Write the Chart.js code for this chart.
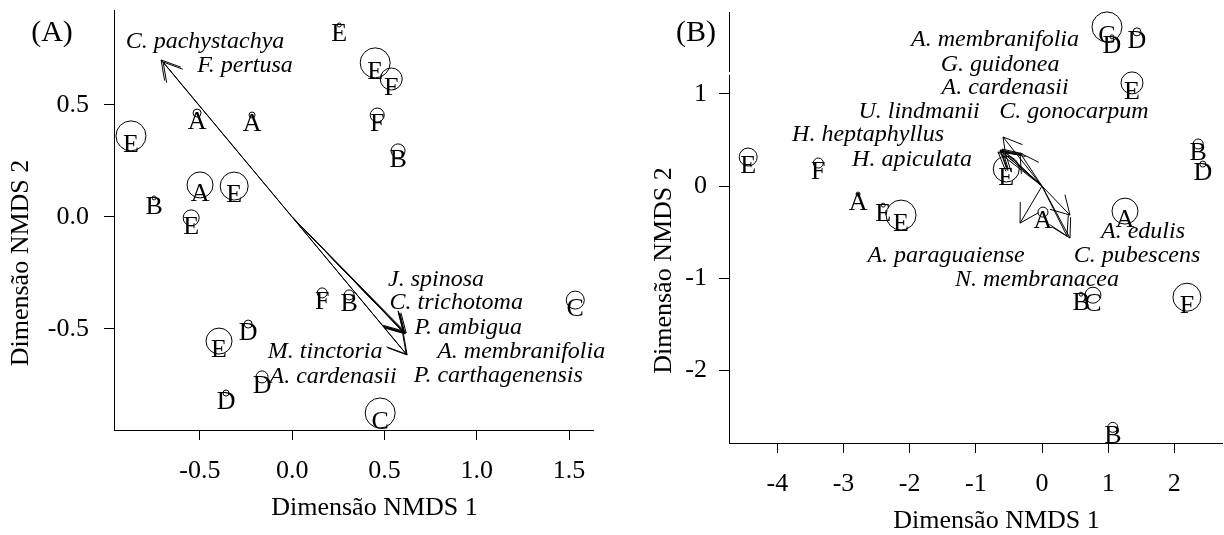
<!DOCTYPE html>
<html>
<head>
<meta charset="utf-8">
<script src="https://cdn.jsdelivr.net/npm/chart.js@4.4.1/dist/chart.umd.min.js"></script>
<style>
    body { margin: 0; background: #fff; }
    #wrap { position: relative; width: 1224px; height: 535px; }
    canvas { position: absolute; top: 0; }
</style>
</head>
<body>
<div id="wrap">
    <canvas id="chartA" width="612" height="535" style="left:0"></canvas>
    <canvas id="chartB" width="612" height="535" style="left:612px"></canvas>
</div>
<script>
// ---- panel A: sites ----
const siteLabelsA = ["E", "A", "A", "A", "E", "B", "E", "E", "E", "F", "F", "B", "F", "B", "C", "C", "D", "E", "D", "D"];
const siteXA = [-0.873, -0.515, -0.217, -0.499, -0.314, -0.748, -0.547, 0.255, 0.450, 0.537, 0.461, 0.574, 0.163, 0.309, 1.534, 0.477, -0.238, -0.396, -0.163, -0.358];
const siteYA = [0.362, 0.464, 0.455, 0.143, 0.138, 0.085, -0.004, 0.857, 0.688, 0.616, 0.455, 0.295, -0.339, -0.348, -0.371, -0.875, -0.478, -0.554, -0.714, -0.786];
const siteSizeA = [15, 4, 3, 13, 14, 2, 8, 2, 15, 11, 7, 7, 5, 5, 9, 15, 4, 13, 6, 3];

// ---- panel A: species vectors ----
const speciesA = ["C. pachystachya", "F. pertusa", "J. spinosa", "C. trichotoma", "P. ambigua", "A. membranifolia", "P. carthagenensis", "M. tinctoria", "A. cardenasii"];
const arrowXA = [-0.710, -0.699, 0.602, 0.618, 0.607, 0.623, 0.618, 0.612, 0.602];
const arrowYA = [0.701, 0.692, -0.513, -0.518, -0.518, -0.616, -0.612, -0.522, -0.509];
const labelXA = [-0.472, -0.255, 0.780, 0.889, 0.954, 1.241, 1.117, 0.179, 0.222];
const labelYA = [0.781, 0.674, -0.281, -0.384, -0.496, -0.603, -0.710, -0.603, -0.714];

const xTicksA = [-0.5, 0, 0.5, 1, 1.5];
const yTicksA = [-0.5, 0, 0.5];

// ---- panel B: sites ----
const siteLabelsB = ["E", "F", "A", "E", "E", "C", "D", "D", "E", "B", "D", "E", "A", "A", "B", "C", "F", "B"];
const siteXB = [-4.44, -3.38, -2.78, -2.40, -2.13, 0.982, 1.057, 1.435, 1.36, 2.36, 2.43, -0.54, 0.015, 1.254, 0.59, 0.77, 2.19, 1.07];
const siteYB = [0.315, 0.25, -0.087, -0.207, -0.315, 1.728, 1.62, 1.674, 1.12, 0.457, 0.239, 0.185, -0.283, -0.272, -1.174, -1.185, -1.207, -2.62];
const siteSizeB = [9, 5, 2, 2, 15, 15, 2, 4, 11, 5, 3, 13, 5, 13, 2, 8, 14, 5];

// ---- panel B: species vectors ----
const speciesB = ["A. membranifolia", "G. guidonea", "A. cardenasii", "C. gonocarpum", "U. lindmanii", "H. heptaphyllus", "H. apiculata", "A. edulis", "A. paraguaiense", "C. pubescens", "N. membranacea"];
const arrowXB = [-0.634, -0.604, -0.665, -0.589, -0.332, -0.559, -0.619, 0.423, -0.332, 0.423, 0.378];
const arrowYB = [0.391, 0.402, 0.370, 0.533, 0.359, 0.370, 0.380, -0.315, -0.402, -0.565, -0.543];
const labelXB = [-0.71, -0.634, -0.559, 0.483, -1.858, -2.628, -1.964, 1.526, -1.450, 1.435, -0.076];
const labelYB = [1.587, 1.315, 1.065, 0.804, 0.804, 0.554, 0.283, -0.5, -0.761, -0.761, -1.022];

const xTicksB = [-4, -3, -2, -1, 0, 1, 2];
const yTicksB = [-2, -1, 0, 1];
const yBreakB = [1.207, 1.239];

const SERIF = '"Liberation Serif", "Times New Roman", serif';

// draws letters, vectors, species names, titles and the panel tag
const ordinationPlugin = {
    id: "ordination",
    afterDatasetsDraw(chart) {
        const o = chart.options.plugins.ordination;
        const ctx = chart.ctx;
        const xs = chart.scales.x, ys = chart.scales.y;
        ctx.save();
        ctx.fillStyle = "#000";
        ctx.strokeStyle = "#000";
        ctx.lineWidth = 1;

        // site letters, a little under each circle centre
        ctx.font = "26px " + SERIF;
        ctx.textAlign = "center";
        ctx.textBaseline = "middle";
        o.letters.forEach((l, i) => {
            ctx.fillText(l, xs.getPixelForValue(o.sx[i]), ys.getPixelForValue(o.sy[i]) + 9);
        });

        // species vectors from the origin
        const x0 = xs.getPixelForValue(0), y0 = ys.getPixelForValue(0);
        const head = 21, ang = Math.PI / 6;
        o.ax.forEach((ax, i) => {
            const x1 = xs.getPixelForValue(ax), y1 = ys.getPixelForValue(o.ay[i]);
            const t = Math.atan2(y1 - y0, x1 - x0);
            ctx.beginPath();
            ctx.moveTo(x0, y0);
            ctx.lineTo(x1, y1);
            ctx.moveTo(x1 - head * Math.cos(t - ang), y1 - head * Math.sin(t - ang));
            ctx.lineTo(x1, y1);
            ctx.lineTo(x1 - head * Math.cos(t + ang), y1 - head * Math.sin(t + ang));
            ctx.stroke();
        });

        // species names
        ctx.font = "italic 24px " + SERIF;
        o.species.forEach((s, i) => {
            ctx.fillText(s, xs.getPixelForValue(o.lx[i]), ys.getPixelForValue(o.ly[i]));
        });
        ctx.restore();
    },
    afterDraw(chart) {
        const o = chart.options.plugins.ordination;
        const ctx = chart.ctx;
        const a = chart.chartArea;
        ctx.save();
        ctx.fillStyle = "#000";
        ctx.textAlign = "center";
        ctx.textBaseline = "middle";

        // axis break on the y axis
        if (o.yBreak) {
            const ys = chart.scales.y;
            const b1 = ys.getPixelForValue(o.yBreak[1]), b0 = ys.getPixelForValue(o.yBreak[0]);
            ctx.fillStyle = "#fff";
            ctx.fillRect(a.left - 3, b1, 6, b0 - b1);
            ctx.fillStyle = "#000";
        }

        ctx.font = "26px " + SERIF;
        ctx.fillText("Dimensão NMDS 1", (a.left + a.right) / 2 + 21, a.bottom + 78);
        ctx.save();
        ctx.translate(a.left - o.yTitleOffset, (a.top + a.bottom) / 2 + 43);
        ctx.rotate(-Math.PI / 2);
        ctx.fillText("Dimensão NMDS 2", 0, 0);
        ctx.restore();

        ctx.font = "30px " + SERIF;
        ctx.fillText(o.tag, a.left - o.tagOffset, 33);
        ctx.restore();
    }
};

function makeChart(id, cfg) {
    const bubbles = cfg.sx.map((x, i) => ({x: x, y: cfg.sy[i], r: cfg.size[i]}));
    const noPad = s => { s.paddingLeft = 0; s.paddingRight = 0; s.paddingTop = 0; s.paddingBottom = 0; };
    const axis = (min, max, ticks, fit) => ({
        type: "linear",
        min: min,
        max: max,
        afterBuildTicks: s => { s.ticks = ticks.map(v => ({value: v})); },
        afterFit: s => { fit(s); noPad(s); },
        grid: {drawOnChartArea: false, drawTicks: true, tickLength: 10, color: "#000"},
        border: {display: true, color: "#000", width: 1},
        ticks: {color: "#000", font: {family: SERIF, size: 26}, padding: 16, callback: cfg.fmt, maxRotation: 0}
    });
    const xAxis = axis(cfg.xMin, cfg.xMax, cfg.xTicks, s => { s.height = cfg.xHeight; });
    const yAxis = axis(cfg.yMin, cfg.yMax, cfg.yTicks, s => { s.width = cfg.yWidth; });
    yAxis.ticks.padding = cfg.yPad;
    return new Chart(document.getElementById(id), {
        type: "bubble",
        data: {
            datasets: [{
                data: bubbles,
                backgroundColor: "rgba(0,0,0,0)",
                borderColor: "#000",
                borderWidth: 1,
                clip: false
            }]
        },
        options: {
            responsive: false,
            animation: false,
            layout: {autoPadding: false, padding: {top: cfg.top, right: cfg.right, left: 0, bottom: 0}},
            scales: {x: xAxis, y: yAxis},
            plugins: {
                legend: {display: false},
                tooltip: {enabled: false},
                ordination: {
                    letters: cfg.letters, sx: cfg.sx, sy: cfg.sy,
                    ax: cfg.ax, ay: cfg.ay, species: cfg.species, lx: cfg.lx, ly: cfg.ly,
                    tag: cfg.tag, tagOffset: cfg.tagOffset, yTitleOffset: cfg.yTitleOffset,
                    yBreak: cfg.yBreak
                }
            }
        },
        plugins: [ordinationPlugin]
    });
}

makeChart("chartA", {
    sx: siteXA, sy: siteYA, size: siteSizeA, letters: siteLabelsA,
    ax: arrowXA, ay: arrowYA, species: speciesA, lx: labelXA, ly: labelYA,
    xMin: -0.965, xMax: 1.63, yMin: -0.951, yMax: 0.924,
    xTicks: xTicksA, yTicks: yTicksA, fmt: v => v.toFixed(1),
    xHeight: 105, yWidth: 114, yPad: 15, top: 10, right: 19,
    tag: "(A)", tagOffset: 62, yTitleOffset: 93, yBreak: null
});

makeChart("chartB", {
    sx: siteXB, sy: siteYB, size: siteSizeB, letters: siteLabelsB,
    ax: arrowXB, ay: arrowYB, species: speciesB, lx: labelXB, ly: labelYB,
    xMin: -4.73, xMax: 2.72, yMin: -2.79, yMax: 1.89,
    xTicks: xTicksB, yTicks: yTicksB, fmt: v => v.toFixed(0),
    xHeight: 92, yWidth: 117, yPad: 12, top: 12, right: 2,
    tag: "(B)", tagOffset: 33, yTitleOffset: 65, yBreak: yBreakB
});
</script>
</body>
</html>
